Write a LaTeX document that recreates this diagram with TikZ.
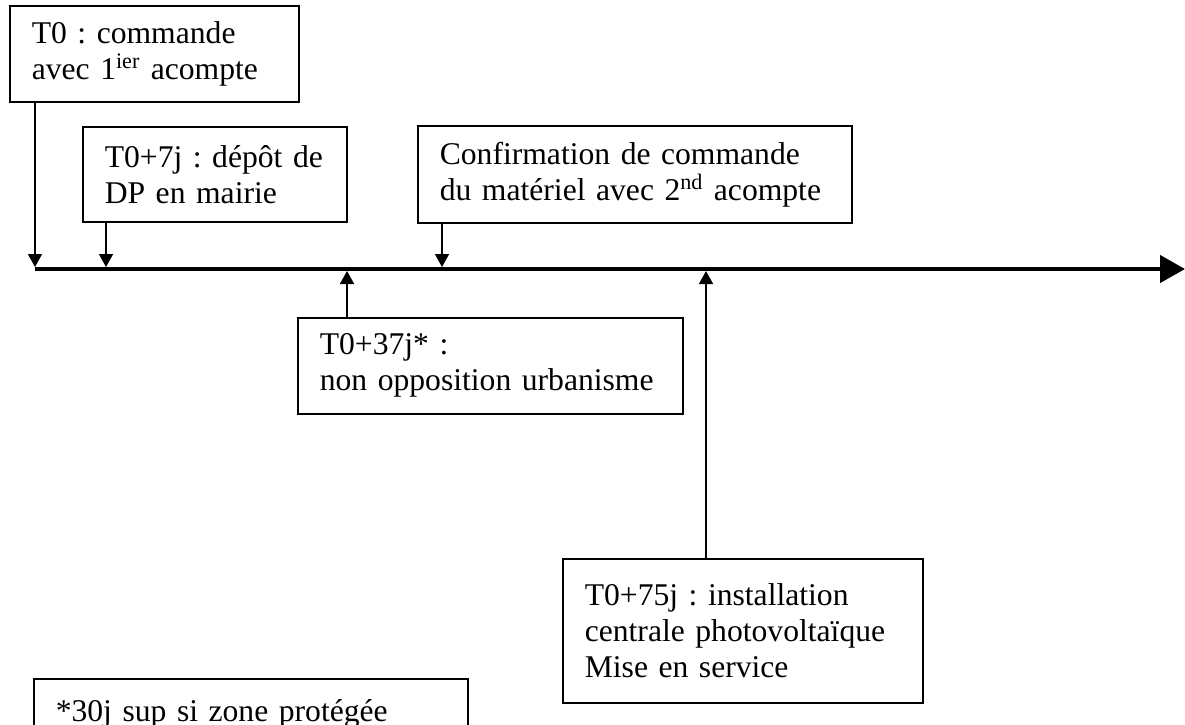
\documentclass[tikz,border=0pt]{standalone}
\usepackage{fontspec}
\setmainfont{Liberation Serif}
\usepackage{tikz}
\usetikzlibrary{arrows.meta}

\tikzset{
  etape/.style={draw,line width=0.9pt,anchor=north west,align=left,
    inner xsep=0.44cm,font=\fontsize{18}{20.5}\selectfont,
    execute at begin node={\frenchspacing\hyphenpenalty=10000}},
  fleche/.style={line width=0.9pt,-{Triangle[length=0.26cm,width=0.28cm]}}
}

\begin{document}
\begin{tikzpicture}[x=0.02cm,y=-0.02cm]
\useasboundingbox (0,0) rectangle (1185,724);
\clip (0,0) rectangle (1185,724);
%%%% axe du temps
\coordinate (debut) at (35,269);
\coordinate (fin) at (1185,269);
\draw[line width=0.09cm,-{Triangle[length=0.5cm,width=0.54cm]}] (debut)--(fin);
%
\coordinate (p0) at (35,267);
\coordinate (p7) at (106,267);
\coordinate (pc) at (442,267);
\coordinate (p37) at (347,271);
\coordinate (p75) at (706,271);
%%%% etapes
\node[etape,text width=4.9cm,minimum width=5.78cm,minimum height=1.92cm] (T0) at (9,5)
  {T0 : commande\\avec 1\textsuperscript{ier} acompte};
\node[etape,text width=4.4cm,minimum width=5.28cm,minimum height=1.9cm] (T7) at (82,126)
  {T0+7j : dépôt de\\DP en mairie};
\node[etape,text width=7.8cm,minimum width=8.68cm,minimum height=1.94cm] (conf) at (417,125)
  {Confirmation de commande\\du matériel avec 2\textsuperscript{nd} acompte};
\node[etape,text width=6.82cm,minimum width=7.7cm,minimum height=1.92cm] (T37) at (297,317)
  {T0+37j* :\\non opposition urbanisme};
\node[etape,text width=6.32cm,minimum width=7.2cm,minimum height=2.88cm] (T75) at (562,558)
  {T0+75j : installation\\centrale photovoltaïque\\Mise en service};
\node[etape,text width=7.8cm,minimum width=8.68cm,minimum height=1.4cm] (note) at (33,678)
  {*30j sup si zone protégée};
%%%% fleches
\draw[fleche] (T0.south -| p0)--(p0);
\draw[fleche] (T7.south -| p7)--(p7);
\draw[fleche] (conf.south -| pc)--(pc);
\draw[fleche] (T37.north -| p37)--(p37);
\draw[fleche] (T75.north -| p75)--(p75);
\end{tikzpicture}
\end{document}
